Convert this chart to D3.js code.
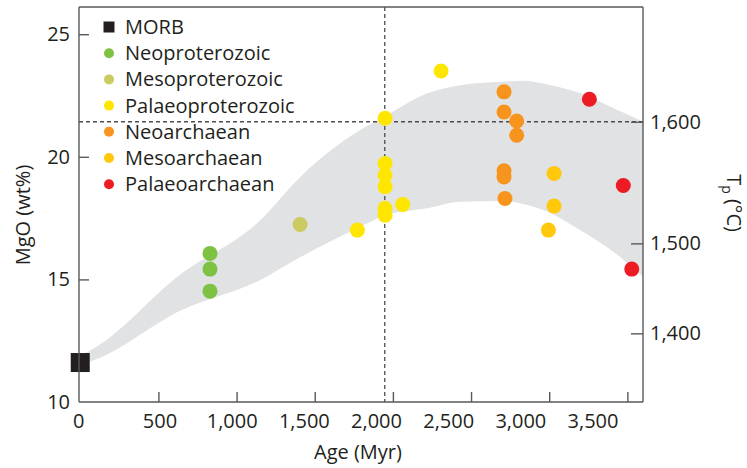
<!DOCTYPE html>
<html lang="en">
<head>
<meta charset="utf-8">
<title>MgO vs age</title>
<script src="https://cdn.jsdelivr.net/npm/d3@7"></script>
<style>
  body { margin: 0; background: #fff; }
  svg text { font-family: "Open Sans", sans-serif; fill: #231f20; }
  .axis path, .axis line { stroke: #58595b; stroke-width: 1.4; }
  .axis text { font-size: 20px; fill: #231f20; }
</style>
</head>
<body>
<script>
  var w = 747;
  var h = 468;

  // legend groups + colours
  var groups = ["MORB", "Neoproterozoic", "Mesoproterozoic", "Palaeoproterozoic",
                "Neoarchaean", "Mesoarchaean", "Palaeoarchaean"];
  var colors = ["#231f20", "#7dc242", "#cbcb62", "#ffe600", "#f7941d", "#ffc80b", "#ed1c24"];

  // points (age in Myr, MgO wt%, group index)
  var ptAge   = [0,
                 830, 830, 830,
                 1406,
                 1773, 1950, 1950, 1950, 1950, 1950, 1950, 2063, 2308,
                 2711, 2711, 2792, 2792, 2711, 2711, 2717,
                 3031, 3031, 2995,
                 3257, 3474, 3528];
  var ptMgO   = [11.61,
                 16.06, 15.42, 14.52,
                 17.24,
                 17.01, 21.57, 19.73, 19.25, 18.78, 17.90, 17.62, 18.05, 23.5,
                 22.65, 21.83, 21.46, 20.88, 19.43, 19.18, 18.30,
                 19.32, 17.99, 17.01,
                 22.35, 18.83, 15.42];
  var ptGroup = [0,
                 1, 1, 1,
                 2,
                 3, 3, 3, 3, 3, 3, 3, 3, 3,
                 4, 4, 4, 4, 4, 4, 4,
                 5, 5, 5,
                 6, 6, 6];

  // grey envelope, upper and lower edges
  var bandAge   = [0, 50, 650, 1150, 1406, 1790, 1944, 2217, 2430, 2700, 2833, 2990, 3197, 3409, 3600];
  var bandUpper = [11.9, 12.05, 15.25, 17.4, 19.17, 21.09, 21.63, 22.58, 22.92, 23.06, 23.1, 22.95, 22.6, 21.99, 21.43];
  var bandLower = [11.55, 11.63, 13.75, 14.97, 15.9, 17.15, 17.6, 17.9, 18.17, 18.2, 18.08, 17.76, 17.01, 16.13, 15.11];

  // axes
  var ageTicks = [0, 500, 1000, 1500, 2000, 2500, 3000, 3500];
  var mgoTicks = [10, 15, 20, 25];
  var tpTicks  = [1400, 1500, 1600];
  var tpMgO    = [12.8, 16.47, 21.43];   // MgO where each Tp tick sits

  var refAge = 1948;   // vertical dashed line
  var refMgO = 21.43;  // horizontal dashed line (1,600 C)

  var pLeft = 79, pRight = 643, pTop = 7, pBottom = 402;

  var x = d3.scaleLinear().domain([-8, 3600]).range([pLeft, pRight]);
  var y = d3.scaleLinear().domain([10, 26.11]).range([pBottom, pTop]);
  var tp = d3.scaleLinear().domain(tpTicks).range(tpMgO.map(function(m) { return y(m); }));
  // tick labels in the original drift left of their ticks
  var xLabel = d3.scaleLinear().domain([500, 3500]).range([159.5, 592.5]);

  var svg = d3.select("body")
              .append("svg")
              .attr("width", w)
              .attr("height", h);

  // band
  var band = d3.area()
               .x(function(d, i) { return x(bandAge[i]); })
               .y0(function(d, i) { return y(bandLower[i]); })
               .y1(function(d, i) { return y(bandUpper[i]); })
               .curve(d3.curveMonotoneX);

  svg.append("path")
     .datum(bandAge)
     .attr("d", band)
     .attr("fill", "#e1e2e3");

  // dashed reference lines
  svg.append("line")
     .attr("x1", x(refAge)).attr("x2", x(refAge))
     .attr("y1", pTop).attr("y2", pBottom)
     .attr("stroke", "#4d4d4f").attr("stroke-width", 1.3)
     .attr("stroke-dasharray", "4,3");

  svg.append("line")
     .attr("x1", pLeft).attr("x2", pRight)
     .attr("y1", y(refMgO)).attr("y2", y(refMgO))
     .attr("stroke", "#4d4d4f").attr("stroke-width", 1.3)
     .attr("stroke-dasharray", "4,3");

  // points
  var idx = d3.range(ptAge.length);

  svg.selectAll("circle.pt")
     .data(idx.filter(function(i) { return ptGroup[i] > 0; }))
     .enter()
     .append("circle")
     .attr("class", "pt")
     .attr("cx", function(i) { return x(ptAge[i]); })
     .attr("cy", function(i) { return y(ptMgO[i]); })
     .attr("r", 7.5)
     .attr("fill", function(i) { return colors[ptGroup[i]]; });

  svg.selectAll("rect.morb")
     .data(idx.filter(function(i) { return ptGroup[i] == 0; }))
     .enter()
     .append("rect")
     .attr("class", "morb")
     .attr("x", function(i) { return x(ptAge[i]) - 9.5; })
     .attr("y", function(i) { return y(ptMgO[i]) - 9.5; })
     .attr("width", 19)
     .attr("height", 19)
     .attr("fill", colors[0]);

  // axes
  var xAxis = svg.append("g")
                 .attr("class", "axis")
                 .attr("transform", "translate(0," + pBottom + ")")
                 .call(d3.axisBottom(x).tickValues(ageTicks).tickSize(-10).tickSizeOuter(0)
                         .tickPadding(12).tickFormat(d3.format(",")));
  xAxis.selectAll(".tick")
       .filter(function(d) { return d == 0; })
       .select("line").remove();
  xAxis.selectAll(".tick text")
       .attr("x", function(d) { return d == 0 ? -2 : xLabel(d) - x(d); });
  xAxis.select(".domain").attr("d", "M" + pLeft + ",0H" + pRight);

  var yAxis = svg.append("g")
                 .attr("class", "axis")
                 .attr("transform", "translate(" + pLeft + ",0)")
                 .call(d3.axisLeft(y).tickValues(mgoTicks).tickSize(-10).tickSizeOuter(0).tickPadding(9));
  yAxis.selectAll(".tick")
       .filter(function(d) { return d == 10; })
       .select("line").remove();
  yAxis.select(".domain").attr("d", "M0," + pTop + "V" + pBottom);

  var tpAxis = svg.append("g")
                  .attr("class", "axis")
                  .attr("transform", "translate(" + pRight + ",0)")
                  .call(d3.axisRight(tp).tickValues(tpTicks).tickSize(-12).tickSizeOuter(0)
                          .tickPadding(7).tickFormat(d3.format(",")));
  tpAxis.select(".domain").attr("d", "M0," + pTop + "V" + pBottom);

  // top frame line
  svg.append("line")
     .attr("x1", pLeft).attr("x2", pRight)
     .attr("y1", pTop).attr("y2", pTop)
     .attr("stroke", "#58595b").attr("stroke-width", 1.4);

  // axis titles
  svg.append("text")
     .attr("x", 358)
     .attr("y", 459)
     .attr("text-anchor", "middle")
     .attr("font-size", 20)
     .text("Age (Myr)");

  svg.append("text")
     .attr("transform", "translate(30,215) rotate(-90)")
     .attr("text-anchor", "middle")
     .attr("font-size", 20)
     .text("MgO (wt%)");

  var tpTitle = svg.append("text")
                   .attr("transform", "translate(727,203) rotate(90)")
                   .attr("text-anchor", "middle")
                   .attr("font-size", 20);
  tpTitle.append("tspan").text("T");
  tpTitle.append("tspan").attr("font-size", 14).attr("dy", 5).text("p");
  tpTitle.append("tspan").attr("dy", -5).text(" (\u00b0C)");

  // legend
  var legend = svg.selectAll("g.legend")
                  .data(groups)
                  .enter()
                  .append("g")
                  .attr("class", "legend")
                  .attr("transform", function(d, i) {
                      return "translate(109," + (27 + i * 26.2) + ")";
                  });

  legend.filter(function(d, i) { return i == 0; })
        .append("rect")
        .attr("x", -5.5).attr("y", -5.5)
        .attr("width", 11).attr("height", 11)
        .attr("fill", colors[0]);

  legend.filter(function(d, i) { return i > 0; })
        .append("circle")
        .attr("r", 5)
        .attr("fill", function(d, i) { return colors[i + 1]; });

  legend.append("text")
        .attr("x", 16)
        .attr("dy", "0.35em")
        .attr("font-size", 20)
        .text(function(d) { return d; });
</script>
</body>
</html>
